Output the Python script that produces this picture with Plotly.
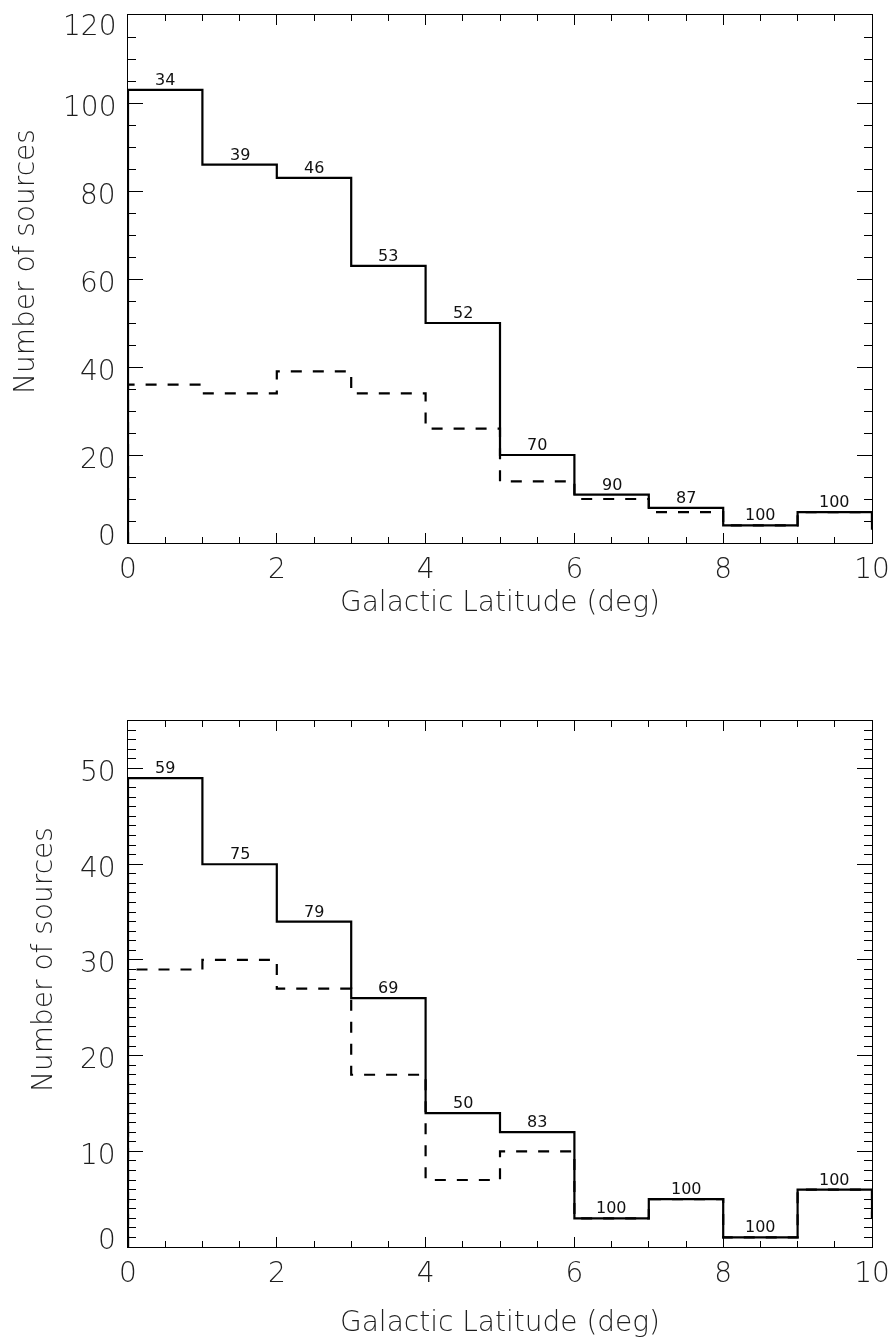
import plotly.graph_objects as go

# ---------------- data ----------------
bin_edges = [0, 1, 2, 3, 4, 5, 6, 7, 8, 9, 10]

top_all = [103, 86, 83, 63, 50, 20, 11, 8, 4, 7]
top_sub = [36, 34, 39, 34, 26, 14, 10, 7, 4, 7]
top_pct = ["34", "39", "46", "53", "52", "70", "90", "87", "100", "100"]
top_before = 0
top_after = 3

bot_all = [49, 40, 34, 26, 14, 12, 3, 5, 1, 6]
bot_sub = [29, 30, 27, 18, 7, 10, 3, 5, 1, 6]
bot_pct = ["59", "75", "79", "69", "50", "83", "100", "100", "100", "100"]
bot_before = 0
bot_after = 3

x_ticks = [0, 2, 4, 6, 8, 10]
top_yticks = [0, 20, 40, 60, 80, 100, 120]
bot_yticks = [0, 10, 20, 30, 40, 50]
top_yrange = [0, 120]
bot_yrange = [0, 55]

x_title = "Galactic Latitude (deg)"
y_title = "Number of sources"

# ---------------- style ----------------
W, H = 891, 1338
FONT = "DejaVu Sans"
TXT = "#1e1e1e"
WT = 300


def px_x(p):
    return p / W


def px_y(p):
    return 1 - p / H


x_dom = [px_x(128), px_x(872)]
top_dom = [px_y(543), px_y(15)]
bot_dom = [px_y(1247), px_y(720.7)]


def step(vals, before, after):
    xs = [bin_edges[0]] + list(bin_edges)
    ys = [before] + list(vals) + [after]
    return xs, ys


fig = go.Figure()

for (allv, subv, bef, aft, xa, ya) in [
    (top_all, top_sub, top_before, top_after, "x", "y"),
    (bot_all, bot_sub, bot_before, bot_after, "x2", "y2"),
]:
    xs, ys = step(subv, bef, aft)
    fig.add_trace(go.Scatter(x=xs, y=ys, mode="lines", xaxis=xa, yaxis=ya,
                             line=dict(shape="hv", color="black", width=2.2, dash="11px,11px"),
                             showlegend=False, hoverinfo="skip"))
    xs, ys = step(allv, bef, aft)
    fig.add_trace(go.Scatter(x=xs, y=ys, mode="lines", xaxis=xa, yaxis=ya,
                             line=dict(shape="hv", color="black", width=2.2),
                             showlegend=False, hoverinfo="skip"))

axis_common = dict(showgrid=False, zeroline=False, showline=True, linecolor="black",
                   linewidth=1.2, mirror="ticks", ticks="inside", tickcolor="black",
                   tickwidth=1, automargin=False)

xaxis_cfg = dict(axis_common, range=[0, 10], domain=x_dom, tickvals=x_ticks,
                 ticklen=10, tickfont=dict(family=FONT, size=28, color=TXT, weight=WT),
                 minor=dict(dtick=0.5, tick0=0, ticklen=6, ticks="inside",
                            tickcolor="black", tickwidth=1))

fig.update_layout(
    width=W, height=H, autosize=False,
    margin=dict(l=0, r=0, t=0, b=0, pad=0),
    paper_bgcolor="white", plot_bgcolor="white",
    xaxis=dict(xaxis_cfg, anchor="y"),
    xaxis2=dict(xaxis_cfg, anchor="y2"),
    yaxis=dict(axis_common, range=top_yrange, domain=top_dom, anchor="x",
               tickvals=top_yticks, ticklen=15, showticklabels=False,
               minor=dict(dtick=5, tick0=0, ticklen=8, ticks="inside",
                          tickcolor="black", tickwidth=1)),
    yaxis2=dict(axis_common, range=bot_yrange, domain=bot_dom, anchor="x2",
                tickvals=bot_yticks, ticklen=15, showticklabels=False,
                minor=dict(dtick=1, tick0=0, ticklen=8, ticks="inside",
                           tickcolor="black", tickwidth=1)),
)

ann = []
# percentage labels
for pct, vals, xr, yr in [(top_pct, top_all, "x", "y"), (bot_pct, bot_all, "x2", "y2")]:
    for i, (t, v) in enumerate(zip(pct, vals)):
        ann.append(dict(x=(bin_edges[i] + bin_edges[i + 1]) / 2, y=v, xref=xr, yref=yr,
                        text=t, showarrow=False, xanchor="center", yanchor="bottom",
                        yshift=-1, font=dict(family=FONT, size=16, color="#111111", weight=400)))

# y tick labels
for ticks, xr, yr, top in [(top_yticks, "x domain", "y", top_yrange[1]),
                           (bot_yticks, "x2 domain", "y2", bot_yrange[1])]:
    for j, v in enumerate(ticks):
        if j == 0:
            ys = 8
        elif v == top:
            ys = -10
        else:
            ys = -3
        ann.append(dict(x=0, y=v, xref=xr, yref=yr, text=str(v), showarrow=False,
                        xanchor="right", yanchor="middle", xshift=-10, yshift=ys,
                        font=dict(family=FONT, size=28, color=TXT, weight=WT)))

# axis titles
ann.append(dict(x=px_x(500), y=px_y(601), xref="paper", yref="paper", text=x_title,
                showarrow=False, xanchor="center", yanchor="middle",
                font=dict(family=FONT, size=28, color=TXT, weight=WT)))
ann.append(dict(x=px_x(500), y=px_y(1321), xref="paper", yref="paper", text=x_title,
                showarrow=False, xanchor="center", yanchor="middle",
                font=dict(family=FONT, size=28, color=TXT, weight=WT)))
ann.append(dict(x=px_x(24), y=px_y(262), xref="paper", yref="paper", text=y_title,
                showarrow=False, xanchor="center", yanchor="middle", textangle=-90,
                font=dict(family=FONT, size=28, color=TXT, weight=WT)))
ann.append(dict(x=px_x(42), y=px_y(960), xref="paper", yref="paper", text=y_title,
                showarrow=False, xanchor="center", yanchor="middle", textangle=-90,
                font=dict(family=FONT, size=28, color=TXT, weight=WT)))

fig.update_layout(annotations=ann)

fig.write_html(
    "out.html",
    config={"responsive": False},
    post_script="document.documentElement.style.margin='0';document.body.style.margin='0';"
                "document.body.style.overflow='hidden';"
                "document.querySelectorAll('.main-svg').forEach(function(s){s.style.filter='grayscale(1)';});",
)
